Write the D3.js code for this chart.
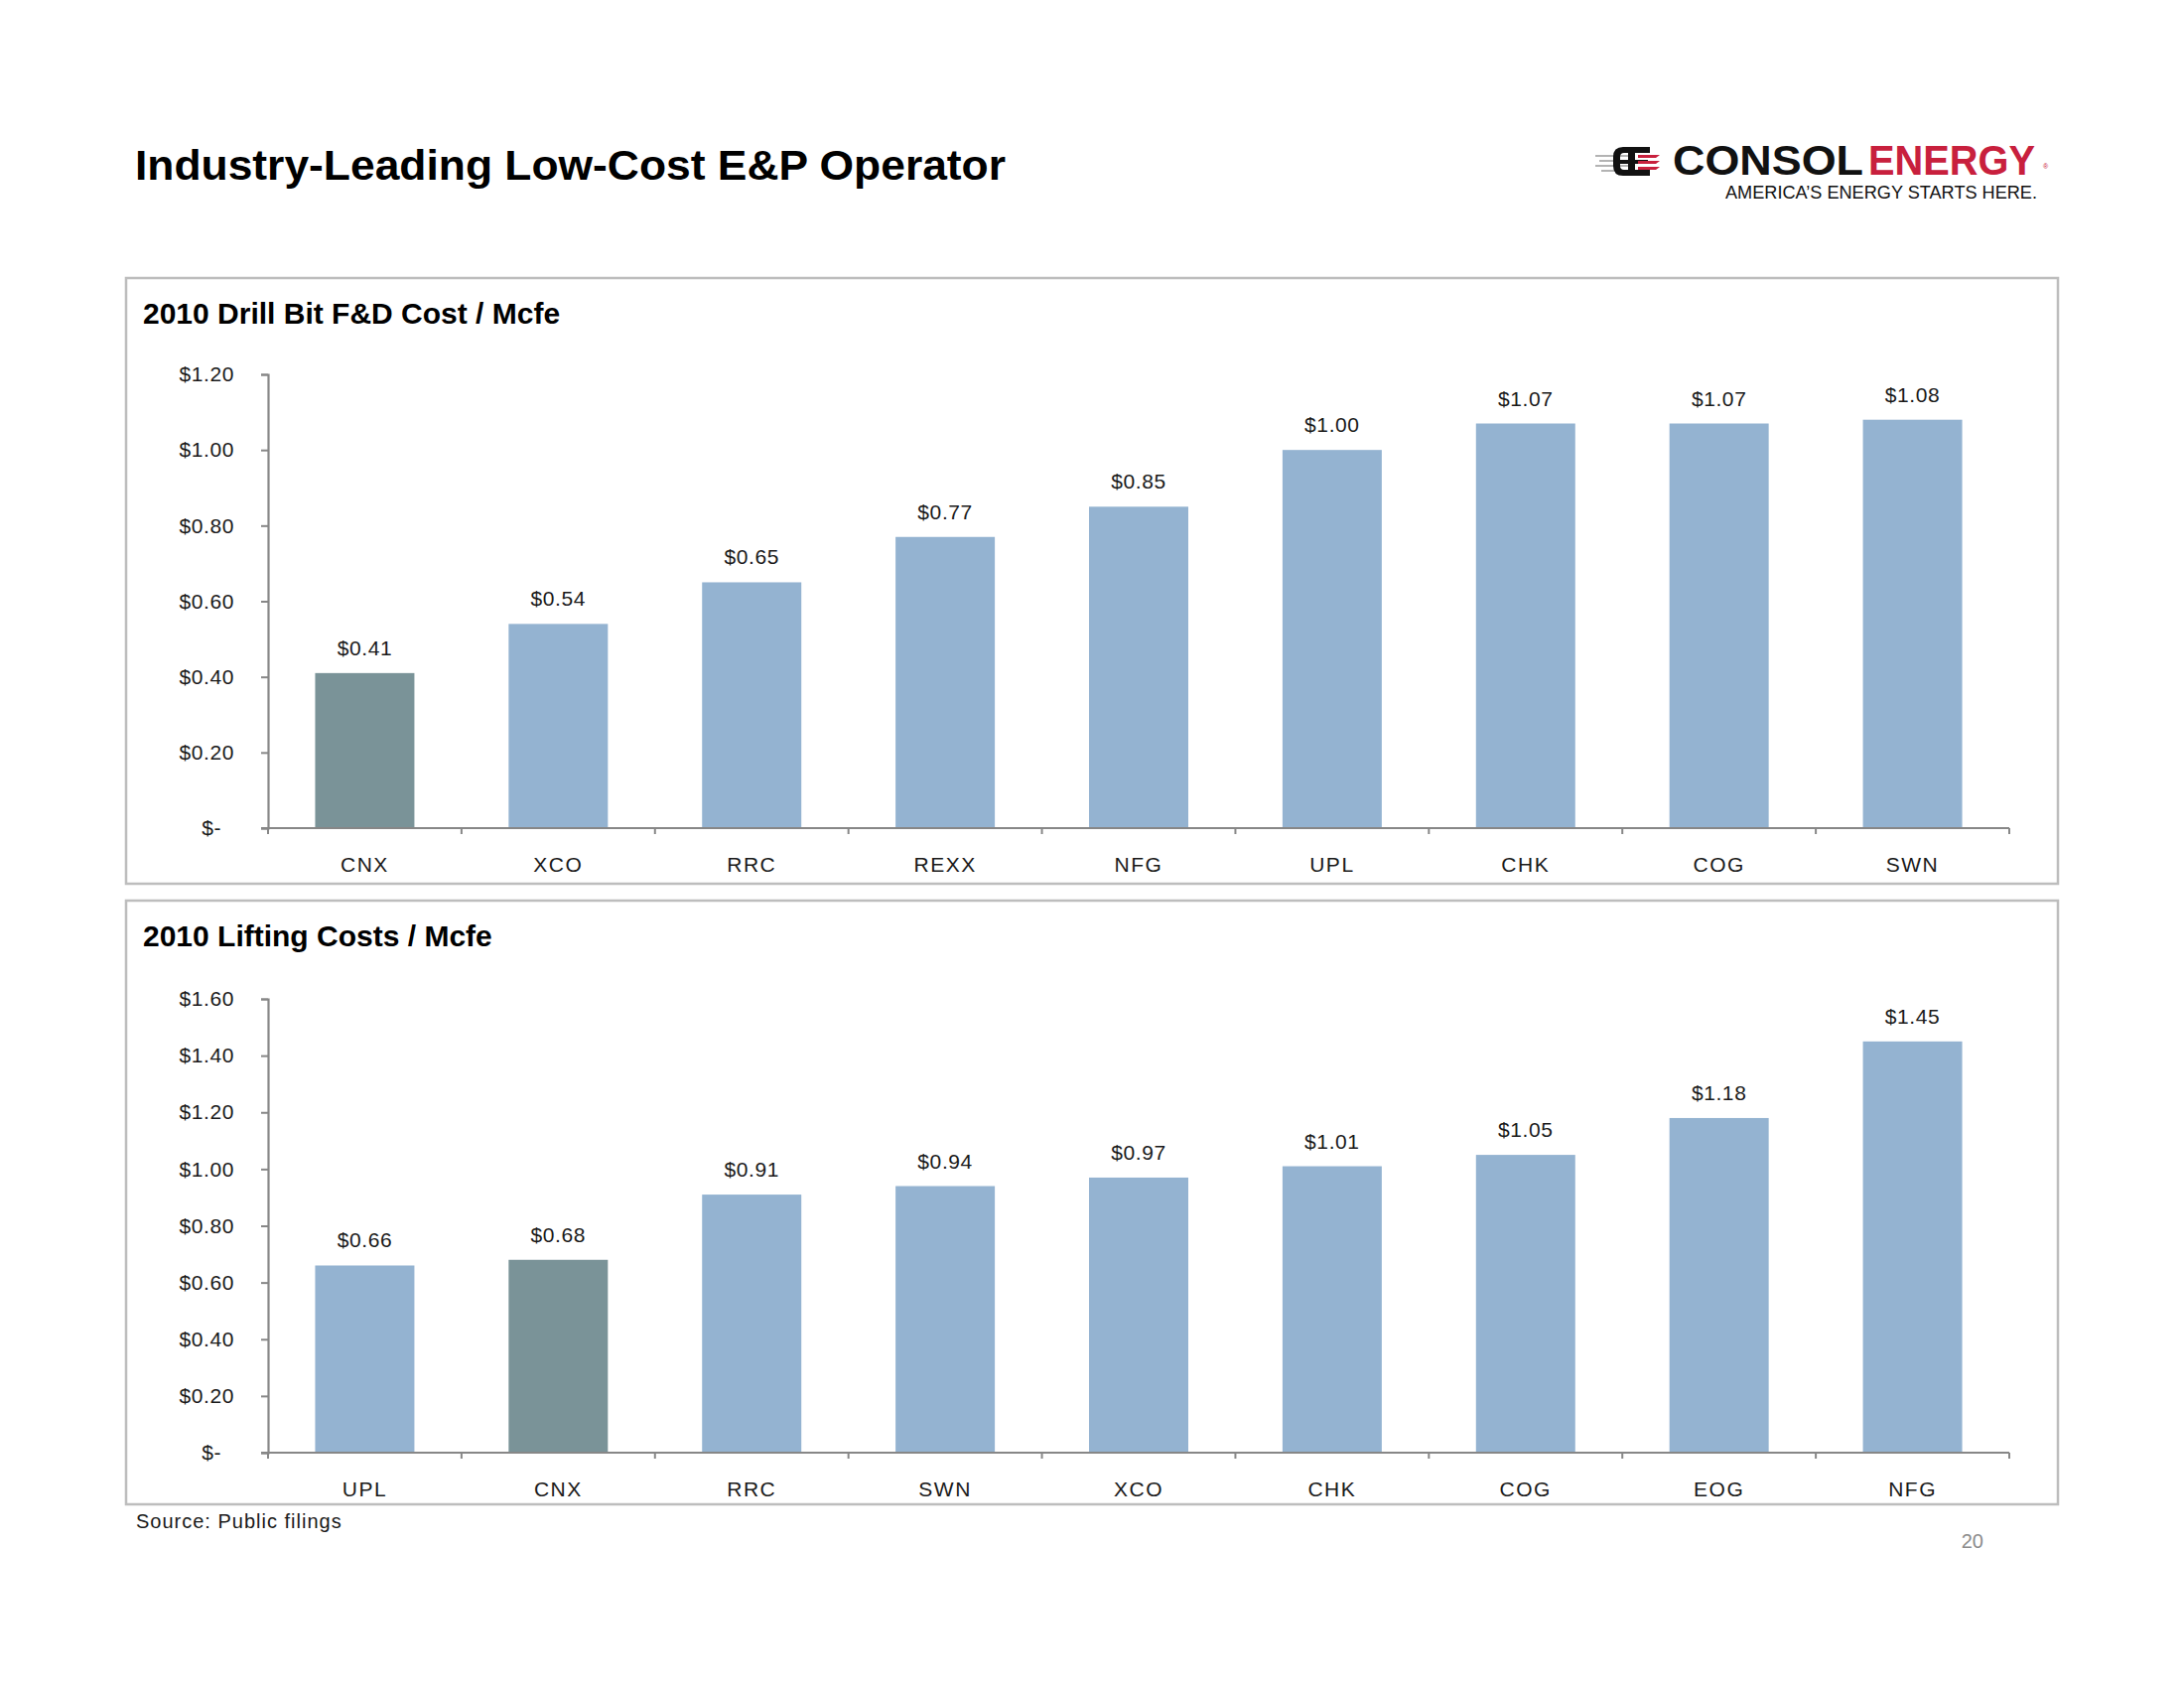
<!DOCTYPE html>
<html>
<head>
<meta charset="utf-8">
<script src="https://cdn.jsdelivr.net/npm/d3@7"></script>
<style>
  html, body { margin: 0; padding: 0; background: #ffffff; }
  svg { display: block; font-family: "Liberation Sans", Arial, sans-serif; }
</style>
</head>
<body>
<svg id="chart" width="2200" height="1700"></svg>
<script>
// ---------- DATA ----------
const drillCategories = ["CNX", "XCO", "RRC", "REXX", "NFG", "UPL", "CHK", "COG", "SWN"];
const drillValues     = [0.41, 0.54, 0.65, 0.77, 0.85, 1.00, 1.07, 1.07, 1.08];
const drillTicks      = [0, 0.2, 0.4, 0.6, 0.8, 1.0, 1.2];

const liftCategories  = ["UPL", "CNX", "RRC", "SWN", "XCO", "CHK", "COG", "EOG", "NFG"];
const liftValues      = [0.66, 0.68, 0.91, 0.94, 0.97, 1.01, 1.05, 1.18, 1.45];
const liftTicks       = [0, 0.2, 0.4, 0.6, 0.8, 1.0, 1.2, 1.4, 1.6];

const highlightCompany = "CNX";
const pageTitle   = "Industry-Leading Low-Cost E&P Operator";
const drillTitle  = "2010 Drill Bit F&D Cost / Mcfe";
const liftTitle   = "2010 Lifting Costs / Mcfe";
const sourceNote  = "Source: Public filings";
const pageNumber  = "20";

// ---------- STYLE ----------
const COLOR_BAR = "#94b3d1";
const COLOR_HL  = "#7a9398";
const COLOR_AXIS = "#878787";
const COLOR_TEXT = "#1a1a1a";

const svg = d3.select("#chart");

// Page title
svg.append("text")
  .attr("x", 136).attr("y", 181)
  .attr("font-size", 43).attr("font-weight", "bold")
  .attr("textLength", 877).attr("lengthAdjust", "spacingAndGlyphs")
  .attr("fill", "#000")
  .text(pageTitle);

// ---------- LOGO ----------
const logo = svg.append("g");
// speed lines
[[1607, 157, 1640], [1611, 162, 1640], [1607, 167, 1640], [1613, 172, 1640]].forEach(l => {
  logo.append("line").attr("x1", l[0]).attr("x2", l[2]).attr("y1", l[1]).attr("y2", l[1])
    .attr("stroke", "#9a9a9a").attr("stroke-width", 1.5);
});
// black C bracket
logo.append("path")
  .attr("d", "M1662,148 L1635,148 Q1625,148 1625,158 L1625,167 Q1625,177 1635,177 L1662,177 L1662,171 L1636,171 Q1632,171 1632,167 L1632,158 Q1632,154 1636,154 L1662,154 Z")
  .attr("fill", "#111");
logo.append("rect").attr("x", 1640).attr("y", 148).attr("width", 7).attr("height", 29).attr("fill", "#111");
logo.append("rect").attr("x", 1632).attr("y", 161).attr("width", 28).attr("height", 4).attr("fill", "#111");
// red stripes
[156, 162, 168].forEach(y => {
  logo.append("path")
    .attr("d", `M1650,${y} L1672,${y} L1668,${y + 3} L1650,${y + 3} Z`)
    .attr("fill", "#c8203d");
});
logo.append("text")
  .attr("x", 1685).attr("y", 176)
  .attr("font-size", 42).attr("font-weight", 900)
  .attr("textLength", 192).attr("lengthAdjust", "spacingAndGlyphs")
  .attr("fill", "#111")
  .text("CONSOL");
logo.append("text")
  .attr("x", 1882).attr("y", 176)
  .attr("font-size", 42).attr("font-weight", 900)
  .attr("textLength", 168).attr("lengthAdjust", "spacingAndGlyphs")
  .attr("fill", "#c8203d")
  .text("ENERGY");
logo.append("text")
  .attr("x", 2058).attr("y", 170)
  .attr("font-size", 7).attr("fill", "#c8203d").text("®");
logo.append("text")
  .attr("x", 1738).attr("y", 199.5)
  .attr("font-size", 18.5)
  .attr("textLength", 314).attr("lengthAdjust", "spacingAndGlyphs")
  .attr("fill", "#111")
  .text("AMERICA’S ENERGY STARTS HERE.");

// ---------- PANELS ----------
function fmtMoney(v) {
  return v === 0 ? "$-  " : "$" + d3.format(".2f")(v);
}

function drawPanel(cfg) {
  const g = svg.append("g");
  // frame
  g.append("rect")
    .attr("x", cfg.box[0]).attr("y", cfg.box[1])
    .attr("width", cfg.box[2] - cfg.box[0]).attr("height", cfg.box[3] - cfg.box[1])
    .attr("fill", "none").attr("stroke", "#bdbdbd").attr("stroke-width", 2.5);
  // title
  g.append("text")
    .attr("x", cfg.box[0] + 17).attr("y", cfg.titleY)
    .attr("font-size", 30).attr("font-weight", "bold").attr("fill", "#000")
    .text(cfg.title);

  const x = d3.scaleBand()
    .domain(cfg.categories)
    .range([cfg.x0, cfg.x1])
    .paddingInner(0.487).paddingOuter(0.2435);
  const y = d3.scaleLinear()
    .domain([0, d3.max(cfg.ticks)])
    .range([cfg.yBottom, cfg.yTop]);

  const data = cfg.categories.map((c, i) => ({ cat: c, val: cfg.values[i] }));

  // bars
  g.selectAll("rect.bar").data(data).join("rect")
    .attr("class", "bar")
    .attr("x", d => x(d.cat))
    .attr("width", x.bandwidth())
    .attr("y", d => y(d.val))
    .attr("height", d => y(0) - y(d.val))
    .attr("fill", d => d.cat === highlightCompany ? COLOR_HL : COLOR_BAR);

  // value labels
  g.selectAll("text.val").data(data).join("text")
    .attr("class", "val")
    .attr("x", d => x(d.cat) + x.bandwidth() / 2)
    .attr("y", d => y(d.val) - 18)
    .attr("text-anchor", "middle")
    .attr("font-size", 21).attr("letter-spacing", 0.6)
    .attr("fill", COLOR_TEXT)
    .text(d => fmtMoney(d.val));

  // y axis
  const yAxis = d3.axisLeft(y).tickValues(cfg.ticks).tickSize(7).tickPadding(27)
    .tickFormat(fmtMoney);
  const ya = g.append("g").attr("transform", `translate(${cfg.x0},0)`).call(yAxis);
  ya.select(".domain").attr("stroke", COLOR_AXIS).attr("stroke-width", 2.2);
  ya.selectAll(".tick line").attr("stroke", COLOR_AXIS).attr("stroke-width", 2);
  ya.selectAll(".tick text")
    .attr("font-size", 21).attr("letter-spacing", 0.6)
    .attr("font-family", "'Liberation Sans', Arial, sans-serif")
    .attr("fill", COLOR_TEXT)
    .style("white-space", "pre");

  // x axis: line with boundary ticks
  const xa = g.append("g");
  xa.append("line")
    .attr("x1", cfg.x0 - 7).attr("x2", cfg.x1)
    .attr("y1", y(0)).attr("y2", y(0))
    .attr("stroke", COLOR_AXIS).attr("stroke-width", 2.2);
  const step = x.step();
  const bounds = d3.range(cfg.categories.length + 1).map(i => cfg.x0 + i * step);
  xa.selectAll("line.bt").data(bounds).join("line")
    .attr("class", "bt")
    .attr("x1", d => d).attr("x2", d => d)
    .attr("y1", y(0)).attr("y2", y(0) + 6)
    .attr("stroke", COLOR_AXIS).attr("stroke-width", 2);
  xa.selectAll("text.cat").data(cfg.categories).join("text")
    .attr("class", "cat")
    .attr("x", d => x(d) + x.bandwidth() / 2)
    .attr("y", y(0) + 44)
    .attr("text-anchor", "middle")
    .attr("font-size", 21).attr("letter-spacing", 1.5)
    .attr("fill", COLOR_TEXT)
    .text(d => d);
}

drawPanel({
  box: [127, 280, 2073, 890], titleY: 326, title: drillTitle,
  categories: drillCategories, values: drillValues, ticks: drillTicks,
  x0: 270, x1: 2024, yTop: 377, yBottom: 834
});
drawPanel({
  box: [127, 907, 2073, 1515], titleY: 953, title: liftTitle,
  categories: liftCategories, values: liftValues, ticks: liftTicks,
  x0: 270, x1: 2024, yTop: 1006, yBottom: 1463
});

// source + page number
svg.append("text")
  .attr("x", 137).attr("y", 1539)
  .attr("font-size", 20).attr("letter-spacing", 1)
  .attr("fill", COLOR_TEXT)
  .text(sourceNote);
svg.append("text")
  .attr("x", 1998).attr("y", 1559)
  .attr("text-anchor", "end")
  .attr("font-size", 20)
  .attr("fill", "#8c8c8c")
  .text(pageNumber);
</script>
</body>
</html>
